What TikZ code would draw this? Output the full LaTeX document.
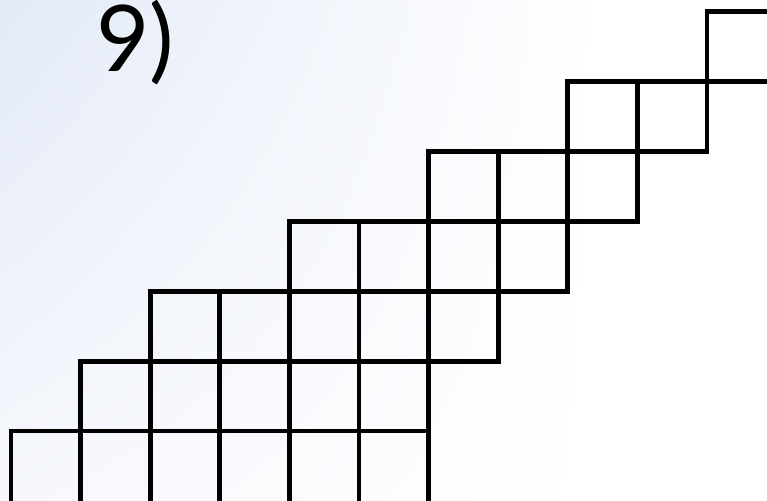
\documentclass[tikz,border=0pt]{standalone}
\usepackage{fontspec}
\usetikzlibrary{shadings}
\setmainfont{Lato}
\definecolor{bgblue}{RGB}{227,234,247}
\definecolor{bgblue2}{RGB}{246,248,252}
\begin{document}
\begin{tikzpicture}[x=1pt,y=-1pt,
  cellbox/.style={draw=black,line width=4.8pt,line join=miter}]
\useasboundingbox (0,0) rectangle (767,500);
\clip (0,0) rectangle (767,500);
\fill[white] (0,0) rectangle (767,500);
\shade[upper left=bgblue,upper right=white,lower left=bgblue2,lower right=white] (0,0) rectangle (600,500);
\node[anchor=base west,inner sep=0pt,font=\fontsize{92}{92}\selectfont] (lbl) at (96,72) {9)};
\def\csx{69.6}
\def\csy{69.9}
\foreach \row/\first/\n in {0/0/6, 1/1/5, 2/2/5, 3/4/4, 4/6/3, 5/8/2, 6/10/1} {
  \foreach \k in {1,...,\n} {
    \pgfmathsetmacro{\xa}{11+(\first+\k-1)*\csx}
    \pgfmathsetmacro{\ya}{431-\row*\csy}
    \pgfmathsetmacro{\hh}{\row==0 ? 80 : \csy}
    \draw[cellbox] (\xa,\ya) rectangle ++(\csx,\hh);
  }
}
\end{tikzpicture}
\end{document}
